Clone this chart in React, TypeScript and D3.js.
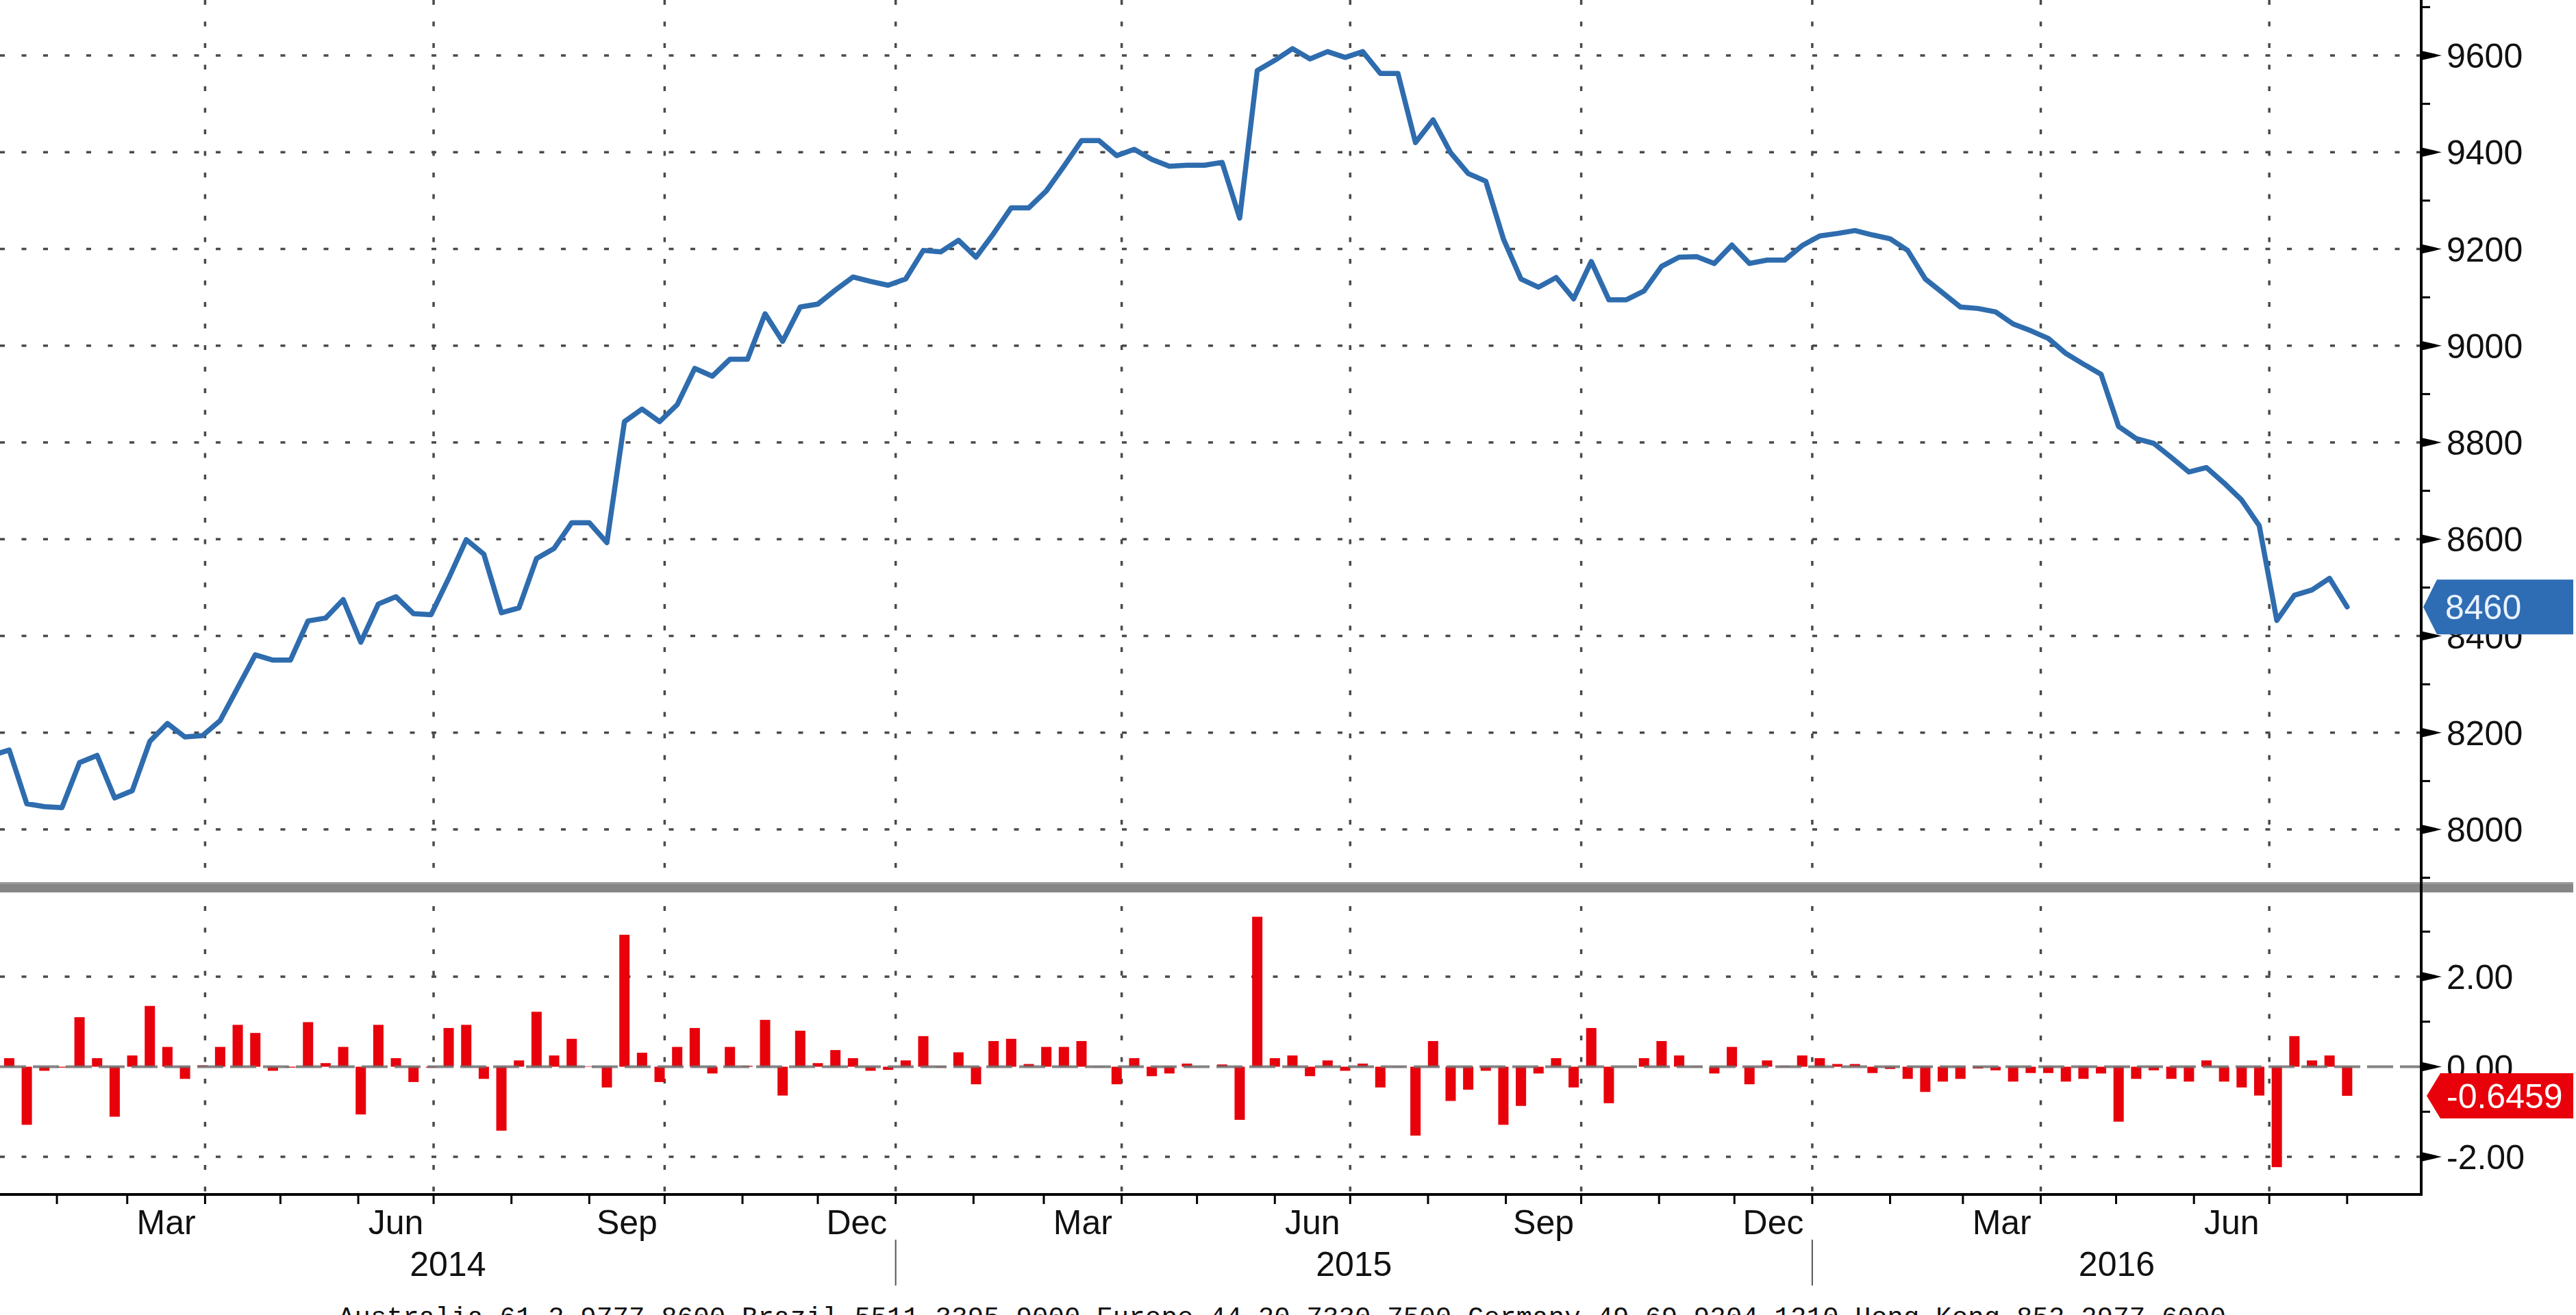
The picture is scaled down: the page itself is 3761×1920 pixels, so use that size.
import React from "react";
import * as d3 from "d3";

const W = 3761;
const H = 1920;

// Weekly index level (first point is just left of the visible area)
const lineValues: number[] = [
  8153, 8164, 8053, 8047, 8045, 8138, 8153, 8065, 8080, 8182,
  8219, 8191, 8194, 8225, 8293, 8361, 8350, 8350, 8431, 8437,
  8475, 8387, 8466, 8481, 8446, 8444, 8519, 8599, 8569, 8448,
  8458, 8560, 8581, 8634, 8634, 8593, 8843, 8869, 8843, 8878,
  8953, 8937, 8972, 8972, 9066, 9009, 9080, 9086, 9115, 9142,
  9133, 9125, 9138, 9197, 9194, 9218, 9183, 9232, 9285, 9285,
  9320, 9371, 9424, 9424, 9393, 9406, 9385, 9371, 9373, 9373,
  9379, 9264, 9569, 9590, 9614, 9593, 9608, 9596, 9608, 9563,
  9563, 9420, 9467, 9399, 9356, 9340, 9221, 9138, 9121, 9141,
  9097, 9174, 9095, 9095, 9113, 9164, 9183, 9184, 9170, 9208,
  9170, 9177, 9177, 9207, 9227, 9232, 9238, 9229, 9221, 9197,
  9138, 9109, 9080, 9077, 9070, 9045, 9031, 9015, 8984, 8962,
  8941, 8833, 8808, 8798, 8769, 8739, 8748, 8716, 8681, 8628,
  8432, 8484, 8495, 8519, 8460,
];

// Weekly % change bars (start one week after the first line point)
const barValues: number[] = [
  0.19, -1.29, -0.09, -0.02, 1.10, 0.19, -1.11, 0.25, 1.35, 0.44,
  -0.27, 0.03, 0.44, 0.93, 0.75, -0.09, -0.02, 0.99, 0.08, 0.44,
  -1.06, 0.93, 0.19, -0.34, -0.02, 0.86, 0.93, -0.27, -1.42, 0.14,
  1.22, 0.25, 0.62, 0.01, -0.46, 2.93, 0.31, -0.34, 0.44, 0.86,
  -0.15, 0.44, 0.02, 1.04, -0.64, 0.80, 0.08, 0.37, 0.19, -0.09,
  -0.07, 0.14, 0.68, -0.02, 0.32, -0.39, 0.57, 0.62, 0.06, 0.44,
  0.44, 0.57, -0.01, -0.39, 0.19, -0.21, -0.15, 0.07, 0.00, 0.05,
  -1.18, 3.33, 0.19, 0.25, -0.21, 0.14, -0.09, 0.07, -0.46, -0.01,
  -1.53, 0.57, -0.76, -0.51, -0.09, -1.29, -0.87, -0.15, 0.19, -0.46,
  0.86, -0.81, 0.00, 0.19, 0.57, 0.25, 0.01, -0.15, 0.44, -0.39,
  0.14, 0.02, 0.25, 0.19, 0.06, 0.06, -0.14, -0.05, -0.27, -0.56,
  -0.33, -0.27, -0.04, -0.08, -0.33, -0.14, -0.14, -0.33, -0.27, -0.15,
  -1.22, -0.27, -0.08, -0.27, -0.33, 0.14, -0.33, -0.46, -0.64, -2.23,
  0.68, 0.14, 0.25, -0.6459,
];

const topMajorTicks = [8000, 8200, 8400, 8600, 8800, 9000, 9200, 9400, 9600];
const topMinorTicks = [7900, 8100, 8300, 8500, 8700, 8900, 9100, 9300, 9500, 9700];
const bottomMajorTicks = [-2, 0, 2];
const bottomMinorTicks = [-1, 1, 3];
const labeledMonths = [2, 5, 8, 11]; // Mar, Jun, Sep, Dec
const years = [2014, 2015, 2016];
const footerText =
  "Australia 61 2 9777 8600 Brazil 5511 3395 9000 Europe 44 20 7330 7500 Germany 49 69 9204 1210 Hong Kong 852 2977 6000";

// layout
const axisX = 3535;
const sepTop = 1288;
const sepH = 15;
const xAxisY = 1744;

const FONT = "'Liberation Sans', Arial, sans-serif";
const LINE_COLOR = "#2e6cae";
const BAR_COLOR = "#e8000b";
const GRID = "#4a4a4a";

export default function App() {
  const dates = d3.timeMonday.range(new Date(2014, 0, 6), new Date(2016, 7, 2));
  const barDates = dates.slice(1);

  const x = d3
    .scaleTime()
    .domain([new Date(2014, 0, 9, 8), new Date(2016, 7, 30, 12)])
    .range([0, axisX]);
  const yTop = d3.scaleLinear().domain([8000, 9600]).range([1211, 81]);
  const yBot = d3.scaleLinear().domain([-2, 2]).range([1689, 1426]);

  const linePath = d3
    .line<number>()
    .x((_, i) => x(dates[i]))
    .y((d) => yTop(d))(lineValues) as string;

  const quarterLines = d3.timeMonth
    .every(3)!
    .range(new Date(2014, 0, 2), new Date(2016, 7, 1));
  const monthTicks = d3.timeMonth
    .range(new Date(2014, 0, 1), new Date(2016, 8, 1))
    .filter((d) => x(d) > 0 && x(d) < axisX);
  const labelMonths = d3.timeMonth
    .range(new Date(2014, 0, 1), new Date(2016, 7, 1))
    .filter((d) => labeledMonths.includes(d.getMonth()));
  const fmtMonth = d3.timeFormat("%b");

  const lastLine = lineValues[lineValues.length - 1];
  const lastBar = barValues[barValues.length - 1];
  const blueCy = yTop(lastLine);
  const redCy = yBot(lastBar);

  const arrowBox = (tip: number, right: number, cy: number, h: number) =>
    `M${tip},${cy} L${tip + 20},${cy - h / 2} L${right},${cy - h / 2} L${right},${cy + h / 2} L${tip + 20},${cy + h / 2} Z`;

  const barW = 15;
  const dash = "7 24.5";

  return (
    <svg
      width={W}
      height={H}
      viewBox={`0 0 ${W} ${H}`}
      style={{ position: "absolute", left: 0, top: 0, display: "block", background: "#fff" }}
    >
      <defs>
        <clipPath id="plotTop">
          <rect x={0} y={0} width={axisX} height={sepTop} />
        </clipPath>
        <clipPath id="plotBot">
          <rect x={0} y={sepTop + sepH} width={axisX} height={xAxisY - sepTop - sepH} />
        </clipPath>
      </defs>
      <rect x={0} y={0} width={W} height={H} fill="#ffffff" />

      {/* horizontal gridlines */}
      {topMajorTicks.map((t) => (
        <line key={"hg" + t} x1={0} x2={axisX} y1={yTop(t)} y2={yTop(t)} stroke={GRID} strokeWidth={3.5} strokeDasharray={dash} />
      ))}
      {bottomMajorTicks
        .filter((t) => t !== 0)
        .map((t) => (
          <line key={"bg" + t} x1={0} x2={axisX} y1={yBot(t)} y2={yBot(t)} stroke={GRID} strokeWidth={3.5} strokeDasharray={dash} />
        ))}

      {/* vertical quarter gridlines */}
      {quarterLines.map((d) => (
        <line key={"vg" + d.getTime()} x1={x(d)} x2={x(d)} y1={0} y2={xAxisY} stroke={GRID} strokeWidth={3.5} strokeDasharray={dash} />
      ))}

      {/* panel separator */}
      <rect x={0} y={sepTop} width={3757} height={sepH} fill="#868686" />
      <rect x={0} y={sepTop} width={3757} height={3} fill="#9a9a9a" />

      {/* bars */}
      <g clipPath="url(#plotBot)">
        {barValues.map((v, i) => (
          <rect
            key={"b" + i}
            x={x(barDates[i]) - barW / 2}
            y={Math.min(yBot(v), yBot(0))}
            width={barW}
            height={Math.abs(yBot(v) - yBot(0))}
            fill={BAR_COLOR}
          />
        ))}
      </g>
      <line x1={0} x2={axisX} y1={yBot(0)} y2={yBot(0)} stroke="#6f6f6f" strokeWidth={4} strokeDasharray="38 10" opacity={0.85} />

      {/* line */}
      <g clipPath="url(#plotTop)">
        <path d={linePath} fill="none" stroke={LINE_COLOR} strokeWidth={7.5} strokeLinejoin="round" strokeLinecap="round" />
      </g>

      {/* right axis */}
      <line x1={axisX} x2={axisX} y1={0} y2={xAxisY + 2} stroke="#000" strokeWidth={4} />
      {topMinorTicks.map((t) => (
        <line key={"tm" + t} x1={axisX} x2={axisX + 13} y1={yTop(t)} y2={yTop(t)} stroke="#000" strokeWidth={3} />
      ))}
      {bottomMinorTicks.map((t) => (
        <line key={"bm" + t} x1={axisX} x2={axisX + 13} y1={yBot(t)} y2={yBot(t)} stroke="#000" strokeWidth={3} />
      ))}
      {topMajorTicks.map((t) => (
        <g key={"tM" + t}>
          <path d={`M${axisX},${yTop(t) - 7} L${axisX + 30},${yTop(t)} L${axisX},${yTop(t) + 7} Z`} fill="#000" />
          <text x={3572} y={yTop(t) + 18} fontFamily={FONT} fontSize={50} fill="#111">
            {t}
          </text>
        </g>
      ))}
      {bottomMajorTicks.map((t) => (
        <g key={"bM" + t}>
          <path d={`M${axisX},${yBot(t) - 7} L${axisX + 30},${yBot(t)} L${axisX},${yBot(t) + 7} Z`} fill="#000" />
          <text x={3572} y={yBot(t) + 18} fontFamily={FONT} fontSize={50} fill="#111">
            {d3.format(".2f")(t).replace("−", "-")}
          </text>
        </g>
      ))}

      {/* bottom time axis */}
      <line x1={0} x2={axisX + 2} y1={xAxisY} y2={xAxisY} stroke="#000" strokeWidth={4} />
      {monthTicks.map((d) => (
        <line key={"mt" + d.getTime()} x1={x(d)} x2={x(d)} y1={xAxisY} y2={xAxisY + 14} stroke="#000" strokeWidth={3} />
      ))}
      {labelMonths.map((d) => {
        const cx = (x(d) + x(d3.timeMonth.offset(d, 1))) / 2;
        return (
          <text key={"ml" + d.getTime()} x={cx} y={1802} textAnchor="middle" fontFamily={FONT} fontSize={50} fill="#111">
            {fmtMonth(d)}
          </text>
        );
      })}
      {years.map((yr) => {
        const a = Math.max(0, x(new Date(yr, 0, 1)));
        const b = Math.min(axisX, x(new Date(yr + 1, 0, 1)));
        return (
          <text key={"yl" + yr} x={(a + b) / 2} y={1863} textAnchor="middle" fontFamily={FONT} fontSize={50} fill="#111">
            {yr}
          </text>
        );
      })}
      {years.slice(1).map((yr) => (
        <line key={"ys" + yr} x1={x(new Date(yr, 0, 1))} x2={x(new Date(yr, 0, 1))} y1={1810} y2={1877} stroke="#555" strokeWidth={2} />
      ))}

      {/* last value boxes */}
      <path d={arrowBox(3538, 3757, blueCy, 80)} fill="#2e6db4" />
      <text x={3570} y={blueCy + 18} fontFamily={FONT} fontSize={50} fill="#eaf2ff">
        {d3.format("d")(lastLine)}
      </text>
      <path d={arrowBox(3543, 3757, redCy, 66)} fill={BAR_COLOR} />
      <text x={3572} y={redCy + 18} fontFamily={FONT} fontSize={50} fill="#ffffff">
        {d3.format(".4f")(lastBar).replace("−", "-")}
      </text>

      {/* footer */}
      <text x={494} y={1935} fontFamily="'Liberation Mono', 'DejaVu Sans Mono', monospace" fontSize={39} fill="#111" textLength={2756} lengthAdjust="spacing">
        {footerText}
      </text>
    </svg>
  );
}
